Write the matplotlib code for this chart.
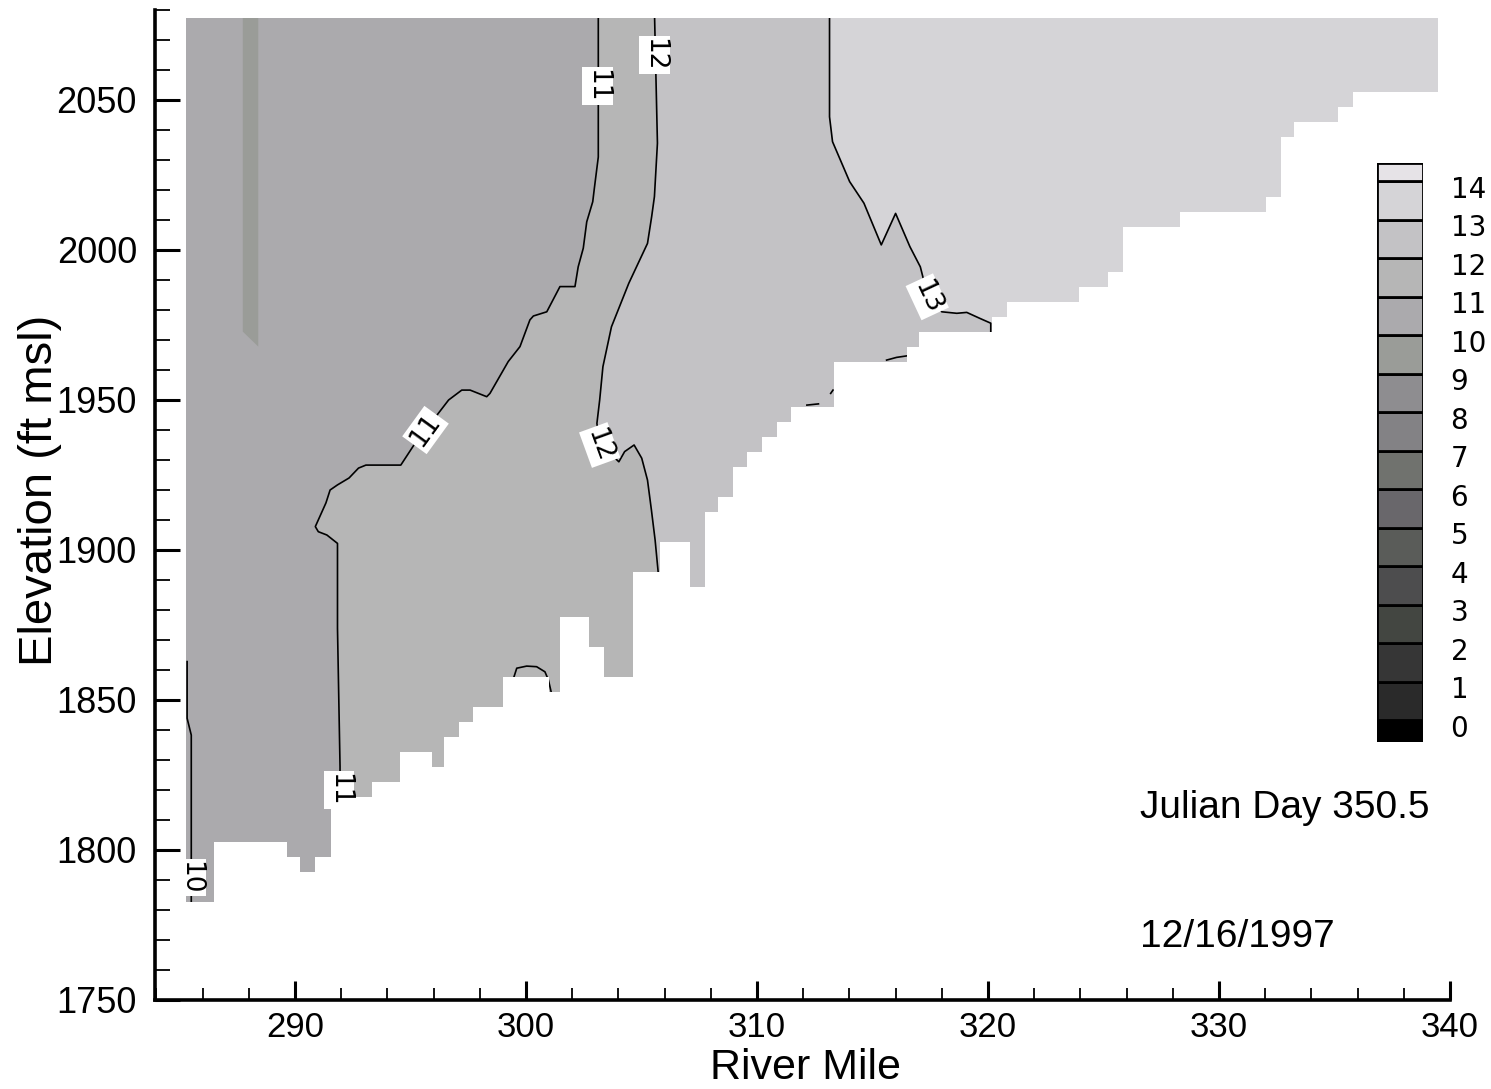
import numpy as np
import matplotlib.pyplot as plt
from matplotlib.ticker import MultipleLocator

plt.rcParams['font.family'] = ['Liberation Sans', 'DejaVu Sans']

# ============================================================
# Bathymetry: segment edges (river mile) and segment bottom (ft msl)
# ============================================================

seg_edges = [285.27, 286.49, 289.64, 290.22, 290.87, 291.56, 293.33, 294.55,
             295.92, 296.46, 297.11, 297.69, 299.02, 301.00, 301.47, 302.74,
             303.39, 304.62, 305.80, 307.10, 307.75, 308.33, 308.98, 309.56,
             310.20, 310.88, 311.46, 313.33, 316.48, 317.03, 320.16, 320.82,
             323.95, 325.18, 325.86, 328.31, 332.02, 332.69, 333.25, 335.14,
             335.81, 339.49]
seg_bottom = [1782.6, 1802.6, 1797.6, 1792.6, 1797.6, 1817.6, 1822.6, 1832.6,
              1827.6, 1837.6, 1842.6, 1847.6, 1857.6, 1852.6, 1877.6, 1867.6,
              1857.6, 1892.6, 1902.6, 1887.6, 1912.6, 1917.6, 1927.6, 1932.6,
              1937.6, 1942.6, 1947.6, 1962.6, 1967.6, 1972.6, 1977.6, 1982.6,
              1987.6, 1992.6, 2007.6, 2012.6, 2017.6, 2037.6, 2042.6, 2047.6,
              2052.6]
water_surface = 2077.2

# ============================================================
# Isotherms (deg C)
# ============================================================

iso11_x = [303.13, 303.13, 302.96, 302.89, 302.63, 302.48, 302.26, 302.12,
           301.47, 300.90, 300.32, 300.17, 299.74, 299.23, 298.44, 298.30,
           297.58, 297.22, 296.65, 295.65, 295.15, 294.58, 293.07, 292.75,
           292.34, 291.84, 291.52, 291.34, 290.88, 291.01, 291.38, 291.84,
           291.84, 291.95, 291.95]
iso11_z = [2080.0, 2031.0, 2020.6, 2016.1, 2009.4, 2000.6, 1994.4, 1987.8,
           1987.8, 1979.4, 1978.0, 1976.7, 1967.8, 1962.8, 1952.2, 1951.1,
           1953.3, 1953.3, 1950.0, 1940.0, 1935.0, 1928.3, 1928.3, 1927.3,
           1924.0, 1921.7, 1920.0, 1915.7, 1907.8, 1906.1, 1905.0, 1902.2,
           1873.9, 1827.8, 1750.0]

iso12_x = [305.56, 305.69, 305.56, 305.44, 305.26, 304.45, 303.70, 303.33,
           303.19, 303.07, 303.19, 304.02, 304.27, 304.68, 305.01, 305.26,
           305.43, 305.59, 305.72, 305.72]
iso12_z = [2080.0, 2035.6, 2017.8, 2011.1, 2002.2, 1988.9, 1974.4, 1961.1,
           1950.0, 1942.2, 1935.6, 1929.4, 1932.8, 1935.0, 1930.6, 1923.3,
           1913.3, 1903.3, 1892.8, 1750.0]

iso13_x = [313.14, 313.14, 313.27, 314.01, 314.63, 315.38, 316.00, 316.62,
           317.07, 317.36, 318.00, 318.65, 319.08, 319.65, 320.12, 320.10]
iso13_z = [2080.0, 2044.4, 2036.1, 2022.8, 2015.6, 2001.7, 2012.2, 2001.1,
           1994.4, 1985.6, 1979.4, 1978.9, 1979.2, 1977.2, 1975.6, 1750.0]

iso10_x = [285.33, 285.33, 285.51, 285.51]
iso10_z = [1862.8, 1843.9, 1838.3, 1775.0]

# small pieces of isotherms hugging the bottom
bump11_x = [299.45, 299.60, 300.03, 300.46, 300.82, 300.97, 301.11]
bump11_z = [1857.0, 1860.6, 1861.3, 1861.1, 1859.4, 1856.7, 1852.0]
frag13a_x = [312.16, 312.66]
frag13a_z = [1948.3, 1948.7]
frag13b_x = [313.19, 313.29]
frag13b_z = [1952.2, 1953.3]
frag13c_x = [315.61, 316.04, 316.48]
frag13c_z = [1963.3, 1964.2, 1964.7]

# colder strip (9-10 C) near RM 288
strip_x = [287.74, 288.41, 288.41, 287.74]
strip_z = [2080.0, 2080.0, 1967.8, 1972.8]

# contour labels
label_text = ['11', '12', '11', '12', '13', '11', '10']
label_x = [303.10, 305.56, 295.65, 303.19, 317.37, 291.90, 285.48]
label_z = [2054.7, 2065.0, 1940.0, 1935.0, 1984.4, 1820.0, 1790.8]
label_rot = [-90, -90, 54, -70, -65, -90, -90]

# legend levels and grey shades (below 0, 0-1, ..., 13-14, above 14)
levels = list(range(0, 15))
band_colors = ['#000000', '#2a2a2a', '#363636', '#434641', '#4d4d4e',
               '#5a5c59', '#69676b', '#70726e', '#838285', '#8e8d90',
               '#9a9c98', '#abaaad', '#b6b6b6', '#c3c2c5', '#d5d4d7',
               '#e6e3e7']

# ============================================================
# Figure
# ============================================================

fig = plt.figure(figsize=(14.91, 10.89), dpi=100)
ax = fig.add_axes([0.10396, 0.08173, 0.86854, 0.90909])
ax.set_xlim(283.94, 340)
ax.set_ylim(1750, 2080)

# water body (warmest band as background), used as clip for everything
dominio = ax.fill_between(seg_edges, seg_bottom + [seg_bottom[-1]], water_surface,
                          step='post', color=band_colors[14], lw=0, zorder=1)
clip = dominio.get_paths()[0]

x_far = ax.get_xlim()[0]
for iso_x, iso_z, col in [(iso13_x, iso13_z, band_colors[13]),
                          (iso12_x, iso12_z, band_colors[12]),
                          (iso11_x, iso11_z, band_colors[11])]:
    zona = ax.fill(iso_x + [x_far, x_far], iso_z + [iso_z[-1], 2080.0],
                   color=col, lw=0, zorder=2)[0]
    zona.set_clip_path(clip, ax.transData)

franja = ax.fill(strip_x, strip_z, color=band_colors[10], lw=0, zorder=2)[0]
franja.set_clip_path(clip, ax.transData)

for lx, lz in [(iso10_x, iso10_z), (iso11_x, iso11_z), (iso12_x, iso12_z),
               (iso13_x, iso13_z), (bump11_x, bump11_z), (frag13a_x, frag13a_z),
               (frag13b_x, frag13b_z), (frag13c_x, frag13c_z)]:
    linea, = ax.plot(lx, lz, color='black', lw=1.2, zorder=4)
    linea.set_clip_path(clip, ax.transData)

for txt, x, z, rot in zip(label_text, label_x, label_z, label_rot):
    ax.text(x, z, txt, rotation=rot, rotation_mode='anchor', ha='center',
            va='center', fontsize=19, family='DejaVu Sans', zorder=5,
            bbox=dict(facecolor='white', edgecolor='none', pad=1.5))

# axes styling
ax.xaxis.set_major_locator(MultipleLocator(10))
ax.xaxis.set_minor_locator(MultipleLocator(2))
ax.yaxis.set_major_locator(MultipleLocator(50))
ax.yaxis.set_minor_locator(MultipleLocator(10))
ax.tick_params(which='both', direction='in', top=False, right=False)
ax.tick_params(axis='y', which='major', length=18, width=2.2, pad=13, labelsize=26)
ax.tick_params(axis='y', which='minor', length=11, width=1.3)
ax.tick_params(axis='x', which='major', length=14, width=2.2, pad=8, labelsize=25)
ax.tick_params(axis='x', which='minor', length=8.5, width=1.3)
for lado in ['top', 'right']:
    ax.spines[lado].set_visible(False)
for lado in ['left', 'bottom']:
    ax.spines[lado].set_linewidth(2.6)

fig.text(0.0268, 0.550, 'Elevation (ft msl)', rotation=90, ha='center',
         va='center', fontsize=34)
fig.text(0.540, 0.0195, 'River Mile', ha='center', va='center', fontsize=31)

fig.text(0.7646, 0.258, 'Julian Day 350.5', ha='left', va='center', fontsize=28)
fig.text(0.7646, 0.1396, '12/16/1997', ha='left', va='center', fontsize=28)

# ============================================================
# Legend (Tecplot style)
# ============================================================

cax = fig.add_axes([0.9235, 0.3186, 0.03085, 0.5317])
bordes = [-0.57] + levels + [14.47]
cax.bar(0.5, np.diff(bordes), bottom=bordes[:-1], width=1.0,
        color=band_colors, edgecolor='black', linewidth=2)
cax.set_xlim(0, 1)
cax.set_ylim(bordes[0], bordes[-1])
cax.axis('off')
for k in levels:
    cax.text(1.6, k - 0.22, str(k), ha='left', va='center', fontsize=20,
             family='DejaVu Sans')

fig.savefig('out.png', dpi=100)
